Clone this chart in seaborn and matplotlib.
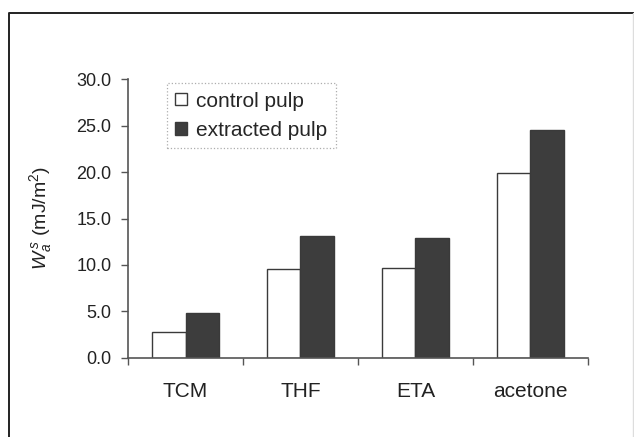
import matplotlib
matplotlib.use("Agg")
import matplotlib.pyplot as plt
import seaborn as sns
import pandas as pd
from matplotlib.lines import Line2D

# Surface adhesion work by solvent, control vs. extracted pulp
solvents = ["TCM", "THF", "ETA", "acetone"]
control_pulp = [2.8, 9.6, 9.7, 19.9]
extracted_pulp = [4.8, 13.1, 12.9, 24.5]
series_names = ["control pulp", "extracted pulp"]
y_ticks = [0.0, 5.0, 10.0, 15.0, 20.0, 25.0, 30.0]

df = pd.DataFrame({
    "solvent": solvents * 2,
    "value": control_pulp + extracted_pulp,
    "series": [series_names[0]] * len(solvents) + [series_names[1]] * len(solvents),
})

sns.set_theme(style="white")
plt.rcParams["font.family"] = ["Liberation Sans", "DejaVu Sans"]
plt.rcParams["mathtext.fontset"] = "custom"
plt.rcParams["mathtext.rm"] = "Liberation Sans"
plt.rcParams["mathtext.it"] = "Liberation Sans:italic"

fig = plt.figure(figsize=(6.34, 4.37), dpi=100)
fig.patch.set_facecolor("white")
ax = fig.add_axes([0.2019, 0.1808, 0.7255, 0.6384])

edge = "#3a3a3a"
sns.barplot(
    data=df, x="solvent", y="value", hue="series",
    order=solvents, hue_order=series_names,
    palette={series_names[0]: "white", series_names[1]: "#3d3d3d"},
    width=0.58, gap=0, edgecolor=edge, linewidth=1.0,
    errorbar=None, ax=ax,
)

ax.set_xlim(-0.5, len(solvents) - 0.5)
ax.set_ylim(0, 30)
ax.set_yticks(y_ticks)
ax.set_yticklabels([f"{v:.1f}" for v in y_ticks])

# category labels at centers, tick marks between categories
ax.set_xticks(range(len(solvents)))
ax.set_xticklabels(solvents)
ax.set_xticks([i - 0.5 for i in range(len(solvents) + 1)], minor=True)
ax.tick_params(axis="x", which="major", length=0, pad=17.5, labelsize=15, colors="#222222")
ax.tick_params(axis="x", which="minor", direction="out", length=5, width=1.0, color="#555555", bottom=True)
ax.tick_params(axis="y", direction="out", length=5, width=1.0, color="#555555", pad=7,
               labelsize=13, labelcolor="#222222", left=True)

for side in ["top", "right"]:
    ax.spines[side].set_visible(False)
for side in ["left", "bottom"]:
    ax.spines[side].set_color("#555555")
    ax.spines[side].set_linewidth(1.2)

ax.set_xlabel("")
ax.set_ylabel(r"$W_a^{\,s}$ (mJ/m$^2$)", fontsize=14, color="#222222")
ax.yaxis.set_label_coords(-0.16, 0.5)

leg = ax.legend(
    loc="upper left", bbox_to_anchor=(0.085, 0.985), fontsize=15,
    handlelength=0.55, handleheight=0.55, handletextpad=0.45,
    labelspacing=0.5, borderpad=0.4, borderaxespad=0.0,
    frameon=True, fancybox=False,
)
frame = leg.get_frame()
frame.set_edgecolor("#999999")
frame.set_linestyle(":")
frame.set_linewidth(0.9)
for h in leg.legend_handles:
    h.set_edgecolor(edge)
    h.set_linewidth(1.0)

# outer frame around the whole chart
W, H = 634, 437
fig.lines.append(Line2D([9 / W, 9 / W, 1.0], [0.0, 1 - 13 / H, 1 - 13 / H],
                        transform=fig.transFigure, color="#222222", linewidth=1.4))
fig.lines.append(Line2D([632.5 / W, 632.5 / W], [0.0, 1 - 13 / H],
                        transform=fig.transFigure, color="#dddddd", linewidth=1.0))

fig.savefig("out.png", dpi=100, facecolor="white")
